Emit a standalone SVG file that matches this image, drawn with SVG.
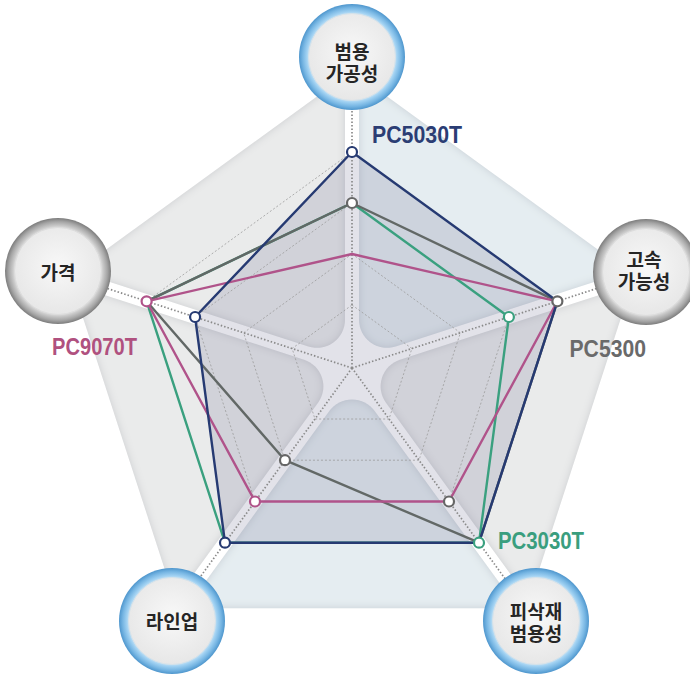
<svg xmlns="http://www.w3.org/2000/svg" width="690" height="675" viewBox="0 0 690 675">
<style>
.nodetxt{font-family:"Noto Sans CJK KR","Noto Sans",sans-serif;font-size:19px;font-weight:700;fill:#252525;text-anchor:middle}
.lbl{font-family:"Liberation Sans",Arial,sans-serif;font-size:24px;font-weight:700}
.grid{fill:none;stroke:#9c9c9c;stroke-width:0.8;stroke-dasharray:2 2}
.axis{stroke:#8a8a8a;stroke-width:1.7;stroke-dasharray:1.5 2;fill:none}
.series{fill:none;stroke-width:2.4;stroke-linejoin:round}
.dot{fill:#fff;stroke-width:2.2}
.sgray{fill:#eaebeb}
.sblue{fill:#e5edf1}
</style>
<defs>
<clipPath id="penta"><polygon points="0,-297 282.5,-91.8 174.6,240.3 -174.6,240.3 -282.5,-91.8"/></clipPath>
<path id="sector" d="M22.65,43.09 L246.9,351.7 L-246.9,351.7 L-22.65,43.09 A28,28 0 0 1 22.65,43.09 Z"/>
<filter id="inset" x="-10%" y="-10%" width="120%" height="120%">
<feComponentTransfer in="SourceAlpha" result="inv"><feFuncA type="table" tableValues="1 0"/></feComponentTransfer>
<feGaussianBlur in="inv" stdDeviation="4" result="blur"/>
<feFlood flood-color="#6f7585" flood-opacity="0.35"/>
<feComposite in2="blur" operator="in" result="sh"/>
<feComposite in="sh" in2="SourceAlpha" operator="in" result="shin"/>
<feMerge><feMergeNode in="SourceGraphic"/><feMergeNode in="shin"/></feMerge>
</filter>
<radialGradient id="ringBlue" cx="50%" cy="50%" r="50%">
<stop offset="0.80" stop-color="#cbe6f7"/>
<stop offset="0.86" stop-color="#9dcff1"/>
<stop offset="0.93" stop-color="#77b6e3"/>
<stop offset="1" stop-color="#4e96cd"/>
</radialGradient>
<radialGradient id="ringGray" cx="50%" cy="50%" r="50%">
<stop offset="0.80" stop-color="#e4e4e4"/>
<stop offset="0.86" stop-color="#c6c6c6"/>
<stop offset="0.93" stop-color="#a6a6a6"/>
<stop offset="1" stop-color="#7c7c7c"/>
</radialGradient>
<radialGradient id="disc" cx="50%" cy="45%" r="55%">
<stop offset="0" stop-color="#f8f8f8"/>
<stop offset="1" stop-color="#e7e7e7"/>
</radialGradient>
</defs>

<g id="background" transform="translate(352,368)">
<g filter="url(#inset)">
<g clip-path="url(#penta)">
<use href="#sector" class="sblue" transform="rotate(-144)"/>
<use href="#sector" class="sgray" transform="rotate(-72)"/>
<use href="#sector" class="sblue"/>
<use href="#sector" class="sgray" transform="rotate(72)"/>
<use href="#sector" class="sgray" transform="rotate(144)"/>
</g>
</g>
</g>

<polygon id="area-PC5030T" points="352,152 557.4,301.3 479,542.7 225,542.7 195.1,317" fill="#6e6e92" fill-opacity="0.2"/>

<g id="grid">
<polygon class="grid" points="352,305 411.9,348.5 389,419 315,419 292.1,348.5"/>
<polygon class="grid" points="352,254 460.4,332.8 419,460.2 285,460.2 243.6,332.8"/>
<polygon class="grid" points="352,203 508.9,317 449,501.5 255,501.5 195.1,317"/>
<polygon class="grid" points="352,152 557.4,301.3 479,542.7 225,542.7 146.6,301.3"/>
</g>

<g id="connectors">
<line class="axis" x1="352" y1="368" x2="352" y2="68"/>
<line class="axis" x1="352" y1="368" x2="637.3" y2="275.3"/>
<line class="axis" x1="352" y1="368" x2="528.3" y2="610.7"/>
<line class="axis" x1="352" y1="368" x2="175.7" y2="610.7"/>
<line class="axis" x1="352" y1="368" x2="66.7" y2="275.3"/>
</g>

<g id="series-PC3030T">
<polygon class="series" stroke="#3aa07f" points="352,203 508.9,317 479,542.7 225,542.7 146.6,301.3"/>
</g>
<g id="series-PC5300">
<polygon class="series" stroke="#626866" points="352,203 557.4,301.3 479,542.7 285,460.2 146.6,301.3"/>
</g>
<g id="series-PC9070T">
<polygon class="series" stroke="#b0538a" points="352,254 557.4,301.3 449,501.5 255,501.5 146.6,301.3"/>
</g>
<g id="series-PC5030T">
<polygon class="series" stroke="#263a72" stroke-width="2.6" points="352,152 557.4,301.3 479,542.7 225,542.7 195.1,317"/>
</g>

<g id="dots">
<circle class="dot" stroke="#263a72" cx="352" cy="152" r="5"/>
<circle class="dot" stroke="#666" cx="352" cy="203" r="5"/>
<circle class="dot" stroke="#666" cx="557.4" cy="301.3" r="5"/>
<circle class="dot" stroke="#3aa07f" cx="508.9" cy="317" r="5"/>
<circle class="dot" stroke="#b0538a" cx="146.6" cy="301.3" r="5"/>
<circle class="dot" stroke="#263a72" cx="195.1" cy="317" r="5"/>
<circle class="dot" stroke="#263a72" cx="225" cy="542.7" r="5"/>
<circle class="dot" stroke="#b0538a" cx="255" cy="501.5" r="5"/>
<circle class="dot" stroke="#666" cx="285" cy="460.2" r="5"/>
<circle class="dot" stroke="#666" cx="449" cy="501.5" r="5"/>
<circle class="dot" stroke="#3aa07f" cx="479" cy="542.7" r="5"/>
</g>

<g id="labels">
<text class="lbl" x="372" y="143" fill="#2b3d74" textLength="90" lengthAdjust="spacingAndGlyphs">PC5030T</text>
<text class="lbl" x="569.5" y="357" fill="#6a6a6a" textLength="76.5" lengthAdjust="spacingAndGlyphs">PC5300</text>
<text class="lbl" x="52" y="355" fill="#b0517f" textLength="85" lengthAdjust="spacingAndGlyphs">PC9070T</text>
<text class="lbl" x="498" y="549" fill="#3a9e7e" textLength="86" lengthAdjust="spacingAndGlyphs">PC3030T</text>
</g>

<g id="node-top" transform="translate(352,57)">
<circle r="53" fill="url(#ringBlue)"/>
<circle r="43.5" fill="url(#disc)" stroke="#d5e2ea" stroke-width="1"/>
<text class="nodetxt" x="0" y="2"><tspan x="0" y="2">범용</tspan><tspan x="0" y="24">가공성</tspan></text>
</g>
<g id="node-right" transform="translate(646,272)">
<circle r="53" fill="url(#ringGray)"/>
<circle r="43.5" fill="url(#disc)" stroke="#dcdcdc" stroke-width="1"/>
<text class="nodetxt" x="-2" y="-5"><tspan x="-2" y="-5">고속</tspan><tspan x="-2" y="17">가능성</tspan></text>
</g>
<g id="node-bottomright" transform="translate(536,621)">
<circle r="53" fill="url(#ringBlue)"/>
<circle r="43.5" fill="url(#disc)" stroke="#d5e2ea" stroke-width="1"/>
<text class="nodetxt" x="0" y="-2"><tspan x="0" y="-2">피삭재</tspan><tspan x="0" y="20">범용성</tspan></text>
</g>
<g id="node-bottomleft" transform="translate(172,621)">
<circle r="53" fill="url(#ringBlue)"/>
<circle r="43.5" fill="url(#disc)" stroke="#d5e2ea" stroke-width="1"/>
<text class="nodetxt" x="0" y="8">라인업</text>
</g>
<g id="node-left" transform="translate(58,271)">
<circle r="53" fill="url(#ringGray)"/>
<circle r="43.5" fill="url(#disc)" stroke="#dcdcdc" stroke-width="1"/>
<text class="nodetxt" x="0" y="9">가격</text>
</g>
</svg>
